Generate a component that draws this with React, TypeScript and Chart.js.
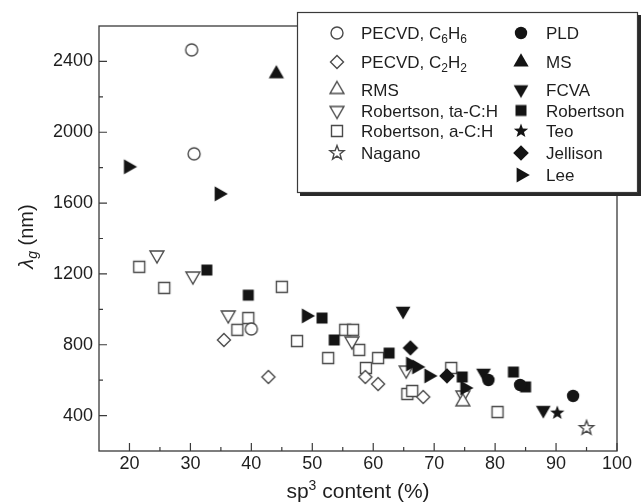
import React, { useEffect, useRef } from "react";
import { Chart, registerables } from "chart.js";

Chart.register(...registerables);

type Pt = { x: number; y: number };

// ---- data (sp3 content %, optical gap wavelength nm) ----
const pecvdC6H6: Pt[] = [
  { x: 30.2, y: 2465 },
  { x: 30.6, y: 1878 },
  { x: 40.0, y: 889 },
];
const pecvdC2H2: Pt[] = [
  { x: 35.5, y: 827 },
  { x: 42.8, y: 618 },
  { x: 58.7, y: 618 },
  { x: 60.8, y: 578 },
  { x: 68.2, y: 505 },
];
const rms: Pt[] = [{ x: 74.7, y: 478 }];
const robertsonTaCH: Pt[] = [
  { x: 24.5, y: 1307 },
  { x: 30.4, y: 1188 },
  { x: 36.2, y: 968 },
  { x: 56.5, y: 821 },
  { x: 65.4, y: 657 },
  { x: 74.7, y: 516 },
];
const robertsonACH: Pt[] = [
  { x: 21.6, y: 1240 },
  { x: 25.7, y: 1121 },
  { x: 37.7, y: 884 },
  { x: 39.5, y: 951 },
  { x: 45.0, y: 1127 },
  { x: 47.5, y: 821 },
  { x: 52.6, y: 725 },
  { x: 55.4, y: 884 },
  { x: 56.7, y: 884 },
  { x: 57.7, y: 771 },
  { x: 58.8, y: 669 },
  { x: 60.8, y: 725 },
  { x: 65.6, y: 522 },
  { x: 66.4, y: 539 },
  { x: 72.8, y: 669 },
  { x: 80.4, y: 420 },
];
const nagano: Pt[] = [{ x: 95.0, y: 330 }];
const pld: Pt[] = [
  { x: 78.9, y: 601 },
  { x: 84.1, y: 573 },
  { x: 92.8, y: 511 },
];
const ms: Pt[] = [{ x: 44.1, y: 2330 }];
const fcva: Pt[] = [
  { x: 64.9, y: 991 },
  { x: 78.1, y: 641 },
  { x: 87.9, y: 431 },
];
const robertson: Pt[] = [
  { x: 32.7, y: 1222 },
  { x: 39.5, y: 1080 },
  { x: 51.6, y: 951 },
  { x: 53.6, y: 827 },
  { x: 62.6, y: 753 },
  { x: 74.6, y: 618 },
  { x: 83.0, y: 646 },
  { x: 85.0, y: 562 },
];
const teo: Pt[] = [{ x: 90.2, y: 415 }];
const jellison: Pt[] = [
  { x: 66.1, y: 782 },
  { x: 72.1, y: 624 },
];
const lee: Pt[] = [
  { x: 19.8, y: 1805 },
  { x: 34.7, y: 1652 },
  { x: 49.0, y: 963 },
  { x: 66.1, y: 691 },
  { x: 67.1, y: 675 },
  { x: 69.1, y: 624 },
  { x: 75.0, y: 556 },
];

const xTicks = [20, 30, 40, 50, 60, 70, 80, 90, 100];
const xMinorTicks = [25, 35, 45, 55, 65, 75, 85, 95];
const yTicks = [400, 800, 1200, 1600, 2000, 2400];
const yMinorTicks = [600, 1000, 1400, 1800, 2200];
const X_MIN = 15;
const X_MAX = 100;
const Y_MIN = 200;
const Y_MAX = 2600;

// ---- styles ----
const FONT = "'Liberation Sans', Arial, Helvetica, sans-serif";
const OPEN = "#4a4a4a";
const FILLED = "#141414";
const AXIS = "#3a3a3a";
const TEXT = "#1e1e1e";

type Shape = "circle" | "square" | "diamond" | "triUp" | "triDown" | "triRight" | "star";

function pathShape(ctx: CanvasRenderingContext2D, shape: Shape, cx: number, cy: number, r: number) {
  ctx.beginPath();
  const poly = (angles: number[], radii: number[]) => {
    angles.forEach((a, i) => {
      const rad = (a * Math.PI) / 180;
      const px = cx + Math.cos(rad) * radii[i];
      const py = cy + Math.sin(rad) * radii[i];
      if (i === 0) ctx.moveTo(px, py);
      else ctx.lineTo(px, py);
    });
  };
  switch (shape) {
    case "circle":
      ctx.arc(cx, cy, r, 0, Math.PI * 2);
      break;
    case "square":
      ctx.rect(cx - r, cy - r, 2 * r, 2 * r);
      break;
    case "diamond":
      poly([-90, 0, 90, 180], [r, r, r, r]);
      break;
    case "triUp":
      poly([-90, 30, 150], [r, r, r]);
      break;
    case "triDown":
      poly([90, 210, 330], [r, r, r]);
      break;
    case "triRight":
      poly([0, 120, 240], [r, r, r]);
      break;
    case "star": {
      const a: number[] = [];
      const rr: number[] = [];
      for (let i = 0; i < 10; i++) {
        a.push(-90 + i * 36);
        rr.push(i % 2 === 0 ? r : r * 0.42);
      }
      poly(a, rr);
      break;
    }
  }
  ctx.closePath();
}

function makeMarker(shape: Shape, r: number, filled: boolean): HTMLCanvasElement {
  let size = Math.ceil(r * 2 + 6);
  if (size % 2) size += 1;
  const c = document.createElement("canvas");
  c.width = size;
  c.height = size;
  const ctx = c.getContext("2d")!;
  pathShape(ctx, shape, size / 2, size / 2, r);
  if (filled) {
    ctx.fillStyle = FILLED;
    ctx.fill();
  } else {
    ctx.fillStyle = "#ffffff";
    ctx.fill();
    ctx.lineWidth = 1.4;
    ctx.strokeStyle = OPEN;
    ctx.lineJoin = "miter";
    ctx.stroke();
  }
  return c;
}

type Seg = { t: string; sub?: boolean };

export default function App() {
  const ref = useRef<HTMLCanvasElement | null>(null);

  useEffect(() => {
    const canvas = ref.current;
    if (!canvas) return;

    const mk = {
      pecvdC6H6: makeMarker("circle", 6, false),
      pecvdC2H2: makeMarker("diamond", 6.5, false),
      rms: makeMarker("triUp", 8, false),
      robertsonTaCH: makeMarker("triDown", 8, false),
      robertsonACH: makeMarker("square", 5.5, false),
      nagano: makeMarker("star", 7.5, false),
      pld: makeMarker("circle", 6.2, true),
      ms: makeMarker("triUp", 8.8, true),
      fcva: makeMarker("triDown", 8.5, true),
      robertson: makeMarker("square", 5.5, true),
      teo: makeMarker("star", 7.5, true),
      jellison: makeMarker("diamond", 7.8, true),
      lee: makeMarker("triRight", 8.8, true),
    };

    const ds = (label: string, data: Pt[], img: HTMLCanvasElement, order: number) => ({
      label,
      data,
      pointStyle: img,
      pointRadius: 6,
      pointHoverRadius: 6,
      showLine: false,
      order,
    });

    const datasets = [
      ds("PLD", pld, mk.pld, 0),
      ds("MS", ms, mk.ms, 0),
      ds("FCVA", fcva, mk.fcva, 0),
      ds("Robertson", robertson, mk.robertson, 0),
      ds("Teo", teo, mk.teo, 0),
      ds("Jellison", jellison, mk.jellison, 0),
      ds("Lee", lee, mk.lee, 0),
      ds("PECVD, C6H6", pecvdC6H6, mk.pecvdC6H6, 1),
      ds("PECVD, C2H2", pecvdC2H2, mk.pecvdC2H2, 1),
      ds("RMS", rms, mk.rms, 1),
      ds("Robertson, ta-C:H", robertsonTaCH, mk.robertsonTaCH, 1),
      ds("Robertson, a-C:H", robertsonACH, mk.robertsonACH, 1),
      ds("Nagano", nagano, mk.nagano, 1),
    ];

    const legendCol1: { m: HTMLCanvasElement; segs: Seg[]; y: number }[] = [
      { m: mk.pecvdC6H6, segs: [{ t: "PECVD, C" }, { t: "6", sub: true }, { t: "H" }, { t: "6", sub: true }], y: 33 },
      { m: mk.pecvdC2H2, segs: [{ t: "PECVD, C" }, { t: "2", sub: true }, { t: "H" }, { t: "2", sub: true }], y: 62 },
      { m: mk.rms, segs: [{ t: "RMS" }], y: 89.5 },
      { m: mk.robertsonTaCH, segs: [{ t: "Robertson, ta-C:H" }], y: 110.5 },
      { m: mk.robertsonACH, segs: [{ t: "Robertson, a-C:H" }], y: 131 },
      { m: mk.nagano, segs: [{ t: "Nagano" }], y: 153 },
    ];
    const legendCol2: { m: HTMLCanvasElement; segs: Seg[]; y: number }[] = [
      { m: mk.pld, segs: [{ t: "PLD" }], y: 33 },
      { m: mk.ms, segs: [{ t: "MS" }], y: 62 },
      { m: mk.fcva, segs: [{ t: "FCVA" }], y: 89.5 },
      { m: mk.robertson, segs: [{ t: "Robertson" }], y: 110.5 },
      { m: mk.teo, segs: [{ t: "Teo" }], y: 131 },
      { m: mk.jellison, segs: [{ t: "Jellison" }], y: 153 },
      { m: mk.lee, segs: [{ t: "Lee" }], y: 175 },
    ];

    const framePlugin = {
      id: "frameTicks",
      beforeDatasetsDraw(chart: any) {
        const { ctx, chartArea: a, scales } = chart;
        ctx.save();
        ctx.strokeStyle = AXIS;
        ctx.lineWidth = 1.3;
        ctx.strokeRect(a.left, a.top, a.right - a.left, a.bottom - a.top);
        ctx.lineWidth = 1.2;
        ctx.beginPath();
        xTicks.forEach((v) => {
          const px = scales.x.getPixelForValue(v);
          ctx.moveTo(px, a.bottom);
          ctx.lineTo(px, a.bottom - 8);
        });
        xMinorTicks.forEach((v) => {
          const px = scales.x.getPixelForValue(v);
          ctx.moveTo(px, a.bottom);
          ctx.lineTo(px, a.bottom - 4);
        });
        yTicks.forEach((v) => {
          const py = scales.y.getPixelForValue(v);
          ctx.moveTo(a.left, py);
          ctx.lineTo(a.left + 8, py);
        });
        yMinorTicks.forEach((v) => {
          const py = scales.y.getPixelForValue(v);
          ctx.moveTo(a.left, py);
          ctx.lineTo(a.left + 4, py);
        });
        ctx.stroke();
        ctx.restore();
      },
      afterDraw(chart: any) {
        const { ctx, chartArea: a } = chart;
        ctx.save();

        // legend box with shadow
        const bx = 297, by = 12, bw = 341, bh = 181;
        ctx.fillStyle = "#2a2a2a";
        ctx.fillRect(bx + 3, by + 3, bw, bh);
        ctx.fillStyle = "#ffffff";
        ctx.fillRect(bx, by, bw, bh);
        ctx.strokeStyle = AXIS;
        ctx.lineWidth = 1.2;
        ctx.strokeRect(bx + 0.5, by + 0.5, bw - 1, bh - 1);

        const drawSegs = (segs: Seg[], x: number, y: number, size: number) => {
          let cx = x;
          segs.forEach((s) => {
            ctx.font = s.sub ? `${Math.round(size * 0.68)}px ${FONT}` : `${size}px ${FONT}`;
            ctx.fillText(s.t, cx, s.sub ? y + 4 : y);
            cx += ctx.measureText(s.t).width;
          });
        };

        ctx.fillStyle = TEXT;
        ctx.textAlign = "left";
        ctx.textBaseline = "alphabetic";
        const LS = 17;
        const drawCol = (rows: { m: HTMLCanvasElement; segs: Seg[]; y: number }[], mx: number, tx: number) => {
          rows.forEach((r) => {
            ctx.drawImage(r.m, mx - r.m.width / 2, r.y - r.m.height / 2);
            ctx.fillStyle = TEXT;
            drawSegs(r.segs, tx, r.y + 6, LS);
          });
        };
        drawCol(legendCol1, 337, 361);
        drawCol(legendCol2, 521, 546);

        // x axis title: sp^3 content (%)
        const XS = 21;
        ctx.fillStyle = TEXT;
        ctx.font = `${XS}px ${FONT}`;
        const w1 = ctx.measureText("sp").width;
        const w3 = ctx.measureText(" content (%)").width;
        ctx.font = `${Math.round(XS * 0.66)}px ${FONT}`;
        const w2 = ctx.measureText("3").width;
        const total = w1 + w2 + w3;
        const cxm = (a.left + a.right) / 2;
        let x0 = cxm - total / 2;
        const base = 498;
        ctx.font = `${XS}px ${FONT}`;
        ctx.fillText("sp", x0, base);
        x0 += w1;
        ctx.font = `${Math.round(XS * 0.66)}px ${FONT}`;
        ctx.fillText("3", x0, base - 8);
        x0 += w2;
        ctx.font = `${XS}px ${FONT}`;
        ctx.fillText(" content (%)", x0, base);

        // y axis title: lambda_g (nm)
        const YS = 20;
        ctx.translate(26, (a.top + a.bottom) / 2 - 2);
        ctx.rotate(-Math.PI / 2);
        ctx.font = `italic ${YS}px ${FONT}`;
        const l1 = ctx.measureText("λ").width;
        ctx.font = `italic ${Math.round(YS * 0.7)}px ${FONT}`;
        const l2 = ctx.measureText("g").width;
        ctx.font = `${YS}px ${FONT}`;
        const l3 = ctx.measureText(" (nm)").width;
        let y0 = -(l1 + l2 + l3) / 2;
        const yb = 7;
        ctx.font = `italic ${YS}px ${FONT}`;
        ctx.fillText("λ", y0, yb);
        y0 += l1;
        ctx.font = `italic ${Math.round(YS * 0.7)}px ${FONT}`;
        ctx.fillText("g", y0, yb + 4);
        y0 += l2;
        ctx.font = `${YS}px ${FONT}`;
        ctx.fillText(" (nm)", y0, yb);

        ctx.restore();
      },
    };

    const chart = new Chart(canvas, {
      type: "scatter",
      data: { datasets: datasets as any },
      options: {
        animation: false,
        responsive: false,
        devicePixelRatio: 1,
        events: [],
        layout: { padding: { left: 0, right: 27, top: 26, bottom: 0 } },
        plugins: {
          legend: { display: false },
          tooltip: { enabled: false },
          title: { display: false },
        },
        scales: {
          x: {
            type: "linear",
            position: "bottom",
            min: X_MIN,
            max: X_MAX,
            grid: { display: false, drawTicks: false },
            border: { display: false },
            afterBuildTicks: (s: any) => {
              s.ticks = xTicks.map((v) => ({ value: v }));
            },
            afterFit: (s: any) => {
              s.height = 53;
            },
            ticks: {
              padding: 2,
              color: TEXT,
              font: { family: FONT, size: 18 },
              maxRotation: 0,
              autoSkip: false,
              callback: (v: any) => String(v),
            },
          },
          y: {
            type: "linear",
            min: Y_MIN,
            max: Y_MAX,
            grid: { display: false, drawTicks: false },
            border: { display: false },
            afterBuildTicks: (s: any) => {
              s.ticks = yTicks.map((v) => ({ value: v }));
            },
            afterFit: (s: any) => {
              s.width = 99;
            },
            ticks: {
              padding: 6,
              color: TEXT,
              font: { family: FONT, size: 18 },
              autoSkip: false,
              callback: (v: any) => String(v),
            },
          },
        },
      },
      plugins: [framePlugin],
    });

    return () => {
      chart.destroy();
    };
  }, []);

  return (
    <div style={{ position: "fixed", left: 0, top: 0, width: 644, height: 504, background: "#fff" }}>
      <canvas ref={ref} width={644} height={504} style={{ display: "block", width: 644, height: 504 }} />
    </div>
  );
}
